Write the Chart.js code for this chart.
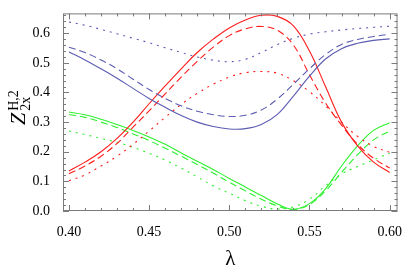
<!DOCTYPE html>
<html>
<head>
<meta charset="utf-8">
<script src="https://cdn.jsdelivr.net/npm/chart.js@4/dist/chart.umd.min.js"></script>
<style>
    html, body { margin: 0; padding: 0; background: #ffffff; }
</style>
</head>
<body>
<canvas id="lineChart" width="407" height="272"></canvas>
<script>
// lambda grid
const lambdaVals = [0.40, 0.41, 0.42, 0.43, 0.44, 0.45, 0.46, 0.47, 0.48, 0.49, 0.50,
                    0.51, 0.52, 0.53, 0.54, 0.55, 0.56, 0.57, 0.58, 0.59, 0.60];

// blue curves
const blueSolid  = [0.537, 0.51, 0.48, 0.448, 0.414, 0.38, 0.35, 0.322, 0.30, 0.285, 0.277,
                    0.278, 0.292, 0.326, 0.388, 0.455, 0.513, 0.548, 0.566, 0.576, 0.581];
const blueDashed = [0.553, 0.535, 0.51, 0.48, 0.445, 0.41, 0.38, 0.355, 0.337, 0.325, 0.319,
                    0.323, 0.341, 0.378, 0.428, 0.48, 0.528, 0.562, 0.579, 0.589, 0.597];
const blueDotted = [0.638, 0.627, 0.613, 0.598, 0.583, 0.568, 0.551, 0.535, 0.52, 0.509, 0.504,
                    0.512, 0.535, 0.562, 0.583, 0.597, 0.605, 0.611, 0.616, 0.62, 0.624];

// red curves
const redSolid  = [0.135, 0.165, 0.2, 0.245, 0.3, 0.362, 0.422, 0.48, 0.535, 0.58, 0.618,
                   0.645, 0.661, 0.657, 0.625, 0.54, 0.42, 0.30, 0.22, 0.165, 0.13];
const redDashed = [0.126, 0.152, 0.185, 0.228, 0.283, 0.338, 0.395, 0.452, 0.505, 0.553, 0.592,
                   0.615, 0.623, 0.61, 0.56, 0.46, 0.365, 0.29, 0.225, 0.178, 0.145];
const redDotted = [0.102, 0.122, 0.152, 0.185, 0.225, 0.27, 0.316, 0.36, 0.397, 0.428, 0.452,
                   0.467, 0.471, 0.465, 0.44, 0.403, 0.355, 0.30, 0.252, 0.218, 0.198];

// green curves
const greenSolid  = [0.334, 0.325, 0.31, 0.292, 0.272, 0.25, 0.225, 0.196, 0.168, 0.14, 0.11,
                     0.081, 0.052, 0.024, 0.006, 0.025, 0.075, 0.152, 0.22, 0.272, 0.298];
const greenDashed = [0.326, 0.316, 0.30, 0.282, 0.26, 0.238, 0.212, 0.185, 0.157, 0.128, 0.097,
                     0.068, 0.04, 0.017, 0.005, 0.022, 0.068, 0.13, 0.19, 0.24, 0.27];
const greenDotted = [0.27, 0.258, 0.245, 0.232, 0.215, 0.195, 0.172, 0.145, 0.115, 0.085, 0.06,
                     0.035, 0.016, 0.007, 0.014, 0.04, 0.085, 0.125, 0.15, 0.173, 0.195];

// ticks
const xMajorTicks = [0.40, 0.45, 0.50, 0.55, 0.60];
const yMajorTicks = [0.0, 0.1, 0.2, 0.3, 0.4, 0.5, 0.6];

const serif = '"Liberation Serif", "Times New Roman", serif';
const BLUE = '#5c5cb2';
const RED = '#ff1c1c';
const GREEN = '#2ef02e';

function makeLine(values, color, dash) {
    return {
        data: values.map((v, i) => ({ x: lambdaVals[i], y: v })),
        borderColor: color,
        borderWidth: 1.1,
        borderDash: dash,
        pointRadius: 0,
        fill: false,
        tension: 0.4
    };
}

// frame with inward ticks on all four sides (like the original)
const framePlugin = {
    id: 'frame',
    afterDatasetsDraw(chart) {
        const { ctx, chartArea: a, scales: { x, y } } = chart;
        ctx.save();
        ctx.strokeStyle = '#7a7a7a';
        ctx.lineWidth = 1;
        ctx.strokeRect(a.left + 0.5, a.top + 0.5, a.right - a.left - 1, a.bottom - a.top - 1);
        ctx.beginPath();
        for (let i = 0; i <= 20; i++) {
            const v = 0.40 + i * 0.01;
            const px = Math.round(x.getPixelForValue(v)) + 0.5;
            const len = (i % 5 === 0) ? 6 : 3;
            ctx.moveTo(px, a.bottom); ctx.lineTo(px, a.bottom - len);
            ctx.moveTo(px, a.top); ctx.lineTo(px, a.top + len);
        }
        for (let i = 0; i <= 33; i++) {
            const v = i * 0.02;
            const py = Math.round(y.getPixelForValue(v)) + 0.5;
            const len = (i % 5 === 0) ? 6 : 3;
            ctx.moveTo(a.left, py); ctx.lineTo(a.left + len, py);
            ctx.moveTo(a.right, py); ctx.lineTo(a.right - len, py);
        }
        ctx.stroke();
        ctx.restore();
    }
};

// y title Z^{H,2}_{2x}, rotated
const yTitlePlugin = {
    id: 'yTitle',
    afterDraw(chart) {
        const ctx = chart.ctx;
        ctx.save();
        ctx.translate(25, 125);
        ctx.rotate(-Math.PI / 2);
        ctx.fillStyle = '#000000';
        ctx.textBaseline = 'alphabetic';
        ctx.font = 'italic 22px ' + serif;
        ctx.fillText('Z', 0, 0);
        const w = ctx.measureText('Z').width;
        ctx.font = '14px ' + serif;
        ctx.fillText('H,2', w + 2, -7);
        ctx.fillText('2x', w + 2, 5);
        ctx.restore();
    }
};

const ctx = document.getElementById('lineChart').getContext('2d');
const lineChart = new Chart(ctx, {
    type: 'line',
    data: {
        datasets: [
            makeLine(blueDotted, BLUE, [2, 5]),
            makeLine(blueDashed, BLUE, [7, 4]),
            makeLine(blueSolid, BLUE, []),
            makeLine(redDotted, RED, [2, 5]),
            makeLine(redDashed, RED, [7, 4]),
            makeLine(redSolid, RED, []),
            makeLine(greenDotted, GREEN, [2, 5]),
            makeLine(greenDashed, GREEN, [7, 4]),
            makeLine(greenSolid, GREEN, [])
        ]
    },
    options: {
        responsive: false,
        devicePixelRatio: 1,
        animation: false,
        layout: { padding: { top: 1, right: 4, left: 0, bottom: 0 } },
        plugins: {
            legend: { display: false },
            tooltip: { enabled: false }
        },
        scales: {
            x: {
                type: 'linear',
                min: 0.3963,
                max: 0.6049,
                afterFit: s => { s.height = 61; },
                grid: { display: false },
                border: { display: false },
                afterBuildTicks: s => { s.ticks = xMajorTicks.map(v => ({ value: v })); },
                ticks: {
                    callback: v => v.toFixed(2),
                    font: { family: serif, size: 14 },
                    color: '#000000',
                    padding: 5,
                    maxRotation: 0,
                    autoSkip: false
                },
                title: {
                    display: true,
                    text: 'λ',
                    font: { family: serif, size: 21 },
                    color: '#000000',
                    padding: { top: 0, bottom: 0 }
                }
            },
            y: {
                type: 'linear',
                min: 0,
                max: 0.667,
                afterFit: s => { s.width = 63; },
                grid: { display: false },
                border: { display: false },
                afterBuildTicks: s => { s.ticks = yMajorTicks.map(v => ({ value: v })); },
                ticks: {
                    callback: v => v.toFixed(1),
                    font: { family: serif, size: 14 },
                    color: '#000000',
                    padding: 5,
                    autoSkip: false
                }
            }
        }
    },
    plugins: [framePlugin, yTitlePlugin]
});
</script>
</body>
</html>
